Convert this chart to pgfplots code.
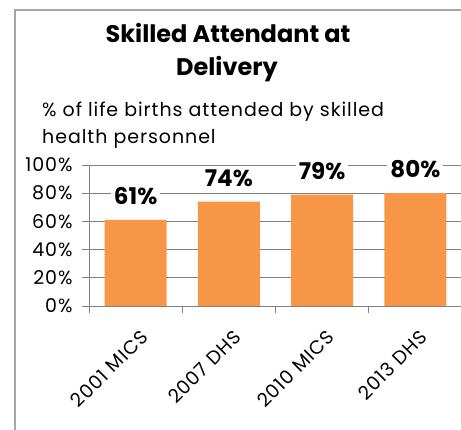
\documentclass[border=0pt]{standalone}
\usepackage{pgfplots}
\pgfplotsset{compat=1.18}
\usepackage{fontspec}
\setmainfont{Poppins}
\newfontfamily\widefont[LetterSpace=5]{Poppins}
\definecolor{barorange}{RGB}{247,150,70}
\definecolor{gridgray}{RGB}{128,128,128}
\definecolor{framegray}{RGB}{165,165,165}
\begin{document}
\begin{tikzpicture}[x=1pt,y=1pt]
\useasboundingbox (0,0) rectangle (461,430);
\begin{scope}
\clip (0,0) rectangle (461,430);
\draw[framegray, line width=1.5pt] (15,-5) -- (15,420) -- (470,420);
\node[anchor=base, font=\bfseries\fontsize{24}{28}\selectfont] at (228,387) {Skilled Attendant at};
\node[anchor=base, font=\bfseries\fontsize{24}{28}\selectfont] at (227,354) {Delivery};
\node[anchor=base west, font=\widefont\fontsize{19}{22}\selectfont, inner sep=0pt] at (42,313) {\% of life births attended by skilled};
\node[anchor=base west, font=\widefont\fontsize{19}{22}\selectfont, inner sep=0pt] at (42,286) {health personnel};
\begin{axis}[
  at={(89pt,124pt)}, anchor=south west,
  scale only axis, width=373pt, height=141pt,
  ymin=0, ymax=100, xmin=-0.5, xmax=3.5,
  ytick={0,20,40,60,80,100},
  yticklabel={\pgfmathprintnumber{\tick}\%},
  /pgf/number format/assume math mode=true,
  xtick={0,1,2,3},
  xticklabels={2001 MICS,2007 DHS,2010 MICS,2013 DHS},
  minor xtick={-0.5,0.5,1.5,2.5,3.5},
  major x tick style={draw=none},
  minor x tick style={draw=gridgray, line width=0.8pt},
  ytick style={draw=gridgray, line width=0.8pt},
  tick align=outside, tick pos=left,
  major tick length=7pt, minor tick length=7pt,
  ymajorgrids, grid style={gridgray, line width=0.8pt},
  axis x line*=bottom, axis y line*=left,
  axis line style={gridgray, line width=0.8pt},
  separate axis lines,
  y axis line style={-}, x axis line style={-},
  yticklabel style={font=\widefont\fontsize{19}{21}\selectfont, xshift=-6pt},
  xticklabel style={font=\widefont\fontsize{19}{22}\selectfont, rotate=45, anchor=north east, xshift=-5pt, yshift=-10pt},
  ybar, bar width=62pt,
  nodes near coords={\pgfmathprintnumber{\pgfplotspointmeta}\%},
  nodes near coords style={font=\bfseries\fontsize{23}{26}\selectfont, fill=white, inner sep=3pt, yshift=12pt},
  clip=false,
]
\addplot[fill=barorange, draw=none] coordinates {(0,61) (1,74) (2,79) (3,80)};
\end{axis}
\end{scope}
\end{tikzpicture}
\end{document}
